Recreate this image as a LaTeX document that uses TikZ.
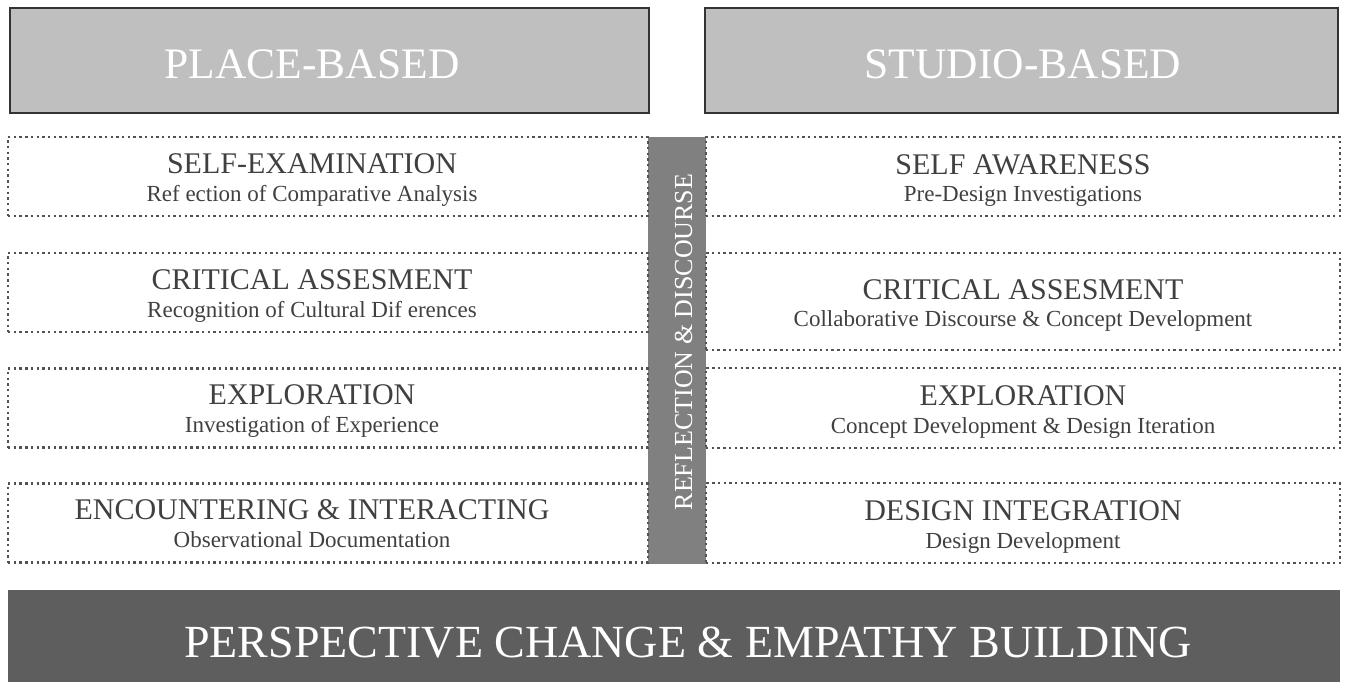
\documentclass[tikz,border=0pt]{standalone}
\usepackage{fontspec}
\setmainfont{Liberation Serif}
\usepackage{xcolor}
\usepackage{tikz}
\definecolor{headgray}{HTML}{BFBFBF}
\definecolor{railgray}{HTML}{808080}
\definecolor{basegray}{HTML}{5E5E5E}
\definecolor{textgray}{HTML}{404040}
\tikzset{
  headbox/.style={rectangle, draw=black!80, line width=1.5pt, fill=headgray, inner sep=0pt, minimum height=105pt},
  stagebox/.style={rectangle, draw=black!68, line width=2.2pt, dash pattern=on 2.4pt off 3.3pt, inner sep=0pt},
  railbar/.style={rectangle, fill=railgray, inner sep=0pt, minimum width=58pt, minimum height=427pt},
  basebar/.style={rectangle, fill=basegray, inner sep=0pt, minimum width=1332pt, minimum height=94pt},
  headtext/.style={anchor=base, inner sep=0pt, text=white, font=\fontsize{43.5}{50}\selectfont},
  stagetitle/.style={anchor=base, inner sep=0pt, text=textgray, font=\fontsize{30}{36}\selectfont},
  stagesub/.style={anchor=base, inner sep=0pt, text=textgray, font=\fontsize{23}{28}\selectfont}
}

\begin{document}
\begin{tikzpicture}[x=1pt, y=-1pt]
        \useasboundingbox (0,0) rectangle (1346,681);

        \node[headbox, minimum width=639pt] (place) at (329.5, 60.5) {};
        \node[headbox, minimum width=633pt] (studio) at (1021.5, 60.5) {};
        \node[headtext] (placetxt) at (312, 78) {PLACE-BASED};
        \node[headtext] (studiotxt) at (1023, 78) {STUDIO-BASED};

        \node[railbar] (rail) at (677, 350.5) {};
        \node[anchor=base, inner sep=0pt, rotate=90, text=white,
              font=\fontsize{26}{30}\selectfont] (railtxt) at (692, 342) {REFLECTION \& DISCOURSE};

        \foreach \n/\yc/\ttl/\sub in {
          1/176.5/SELF-EXAMINATION/Ref ection of Comparative Analysis,
          2/292.5/CRITICAL ASSESMENT/Recognition of Cultural Dif erences,
          3/408/EXPLORATION/Investigation of Experience,
          4/523/ENCOUNTERING \& INTERACTING/Observational Documentation}
        {
          \node[stagebox, minimum width=640pt, minimum height=79pt] (l\n) at (328, \yc) {};
          \node[stagetitle] (lt\n) at (312, \yc-3.5) {\ttl};
          \node[stagesub] (ls\n) at (312, \yc+24.5) {\sub};
        }

        \foreach \n/\yc/\h/\ttl/\sub in {
          1/176.5/79/SELF AWARENESS/Pre-Design Investigations,
          2/301.5/97/CRITICAL ASSESMENT/Collaborative Discourse \& Concept Development,
          3/408/80/EXPLORATION/Concept Development \& Design Iteration,
          4/523/80/DESIGN INTEGRATION/Design Development}
        {
          \node[stagebox, minimum width=634pt, minimum height=\h pt] (r\n) at (1023, \yc) {};
          \node[stagetitle] (rt\n) at (1023, \yc-2.5) {\ttl};
          \node[stagesub] (rs\n) at (1023, \yc+25) {\sub};
        }

        \node[basebar] (base) at (674, 637) {};
        \node[anchor=base, inner sep=0pt, text=white,
              font=\fontsize{46}{52}\selectfont] (basetxt) at (688, 657) {PERSPECTIVE CHANGE \& EMPATHY BUILDING};
\end{tikzpicture}
\end{document}
